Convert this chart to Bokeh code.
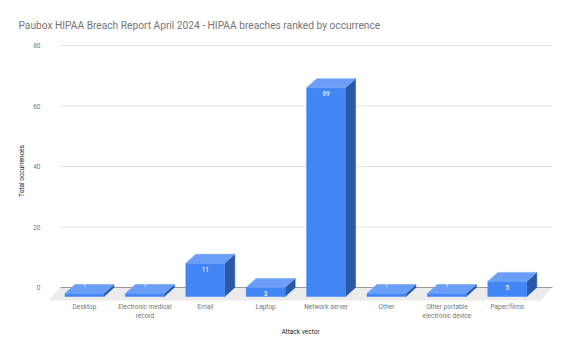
from bokeh.plotting import figure
from bokeh.models import FixedTicker, Range1d, Title
from bokeh.embed import file_html
from bokeh.resources import INLINE
from bokeh.core.properties import value

# ---- data ----
categories = ["Desktop", "Electronic medical\nrecord", "Email", "Laptop", "Network server",
              "Other", "Other portable\nelectronic device", "Paper/films"]
counts = [1, 1, 11, 3, 69, 1, 1, 5]
y_ticks = [0, 20, 40, 60, 80]

# ---- geometry (frame pixels) ----
W, H = 570, 352
F_LEFT, F_RIGHT, F_TOP, F_BOTTOM = 47, 553, 40, 301
PX0, PX1 = 63.8, 547.0      # x of category band start / end
GX0, GX1 = 60, 552          # x extent of gridlines / floor
PY0, PY80 = 287, 45         # y pixel of 0 and 80
n = len(categories)
sx = (PX1 - PX0) / n
sy = (PY0 - PY80) / 80.0
x_start = -(PX0 - F_LEFT) / sx
x_end = n + (F_RIGHT - PX1) / sx
y_start = -(F_BOTTOM - PY0) / sy
y_end = (PY0 - F_TOP) / sy
g0 = -(PX0 - GX0) / sx
g1 = n + (GX1 - PX1) / sx

DX = 10 / sx      # depth offset, x
DY = 9 / sy       # depth offset, y
FDX = 12 / sx     # floor depth
FDY = 13 / sy
BW = 39 / sx      # bar width

FRONT = "#4285f4"
TOP = "#6b9ff7"
SIDE = "#2b58a6"
FONT = "Roboto"
FS = "6.5px"

p = figure(width=W, height=H, output_backend="svg", toolbar_location=None,
           x_range=Range1d(x_start, x_end), y_range=Range1d(y_start, y_end),
           min_border_left=F_LEFT, min_border_right=W - F_RIGHT,
           min_border_top=F_TOP, min_border_bottom=H - F_BOTTOM)
p.outline_line_color = None
p.xgrid.visible = False
p.ygrid.visible = False
p.background_fill_color = "white"
p.border_fill_color = "white"

t = Title(text="Paubox HIPAA Breach Report April 2024 - HIPAA breaches ranked by occurrence",
          text_font=FONT, text_font_size="10.2px", text_font_style="normal",
          text_color="#757575", align="left", offset=-(F_LEFT - 18),
          standoff=19)
p.title = t

# gridlines
gy = [v for v in y_ticks if v != 0]
p.segment(x0=[g0] * len(gy), x1=[g1] * len(gy), y0=gy, y1=gy, line_color="#e3e3e3", line_width=1)

# floor
p.patch(x=[g0, g1, g1 - FDX, g0 - FDX], y=[0, 0, -FDY, -FDY], fill_color="#ebebeb", line_color=None)
# zero line
p.segment(x0=[g0], x1=[g1], y0=[0], y1=[0], line_color="#9a9a9a", line_width=1.2)

fx, fy, tx, ty, sxs, sys_ = [], [], [], [], [], []
for i, v in enumerate(counts):
    c = i + 0.5
    l, r = c - BW / 2, c + BW / 2
    fx.append([l - DX, r - DX, r - DX, l - DX]); fy.append([-DY, -DY, v - DY, v - DY])
    tx.append([l - DX, r - DX, r, l]); ty.append([v - DY, v - DY, v, v])
    sxs.append([r - DX, r, r, r - DX]); sys_.append([-DY, 0, v, v - DY])
p.patches(xs=sxs, ys=sys_, fill_color=SIDE, line_color=SIDE, line_width=0.5)
p.patches(xs=fx, ys=fy, fill_color=FRONT, line_color=FRONT, line_width=0.5)
p.patches(xs=tx, ys=ty, fill_color=TOP, line_color=TOP, line_width=0.5)

# data labels
lx, ly, lt = [], [], []
for i, v in enumerate(counts):
    lx.append(i + 0.5 - DX)
    if v * sy >= 8:
        ly.append(v - DY - 6 / sy)
    else:
        ly.append(v)
    lt.append(str(v))
p.text(x=lx, y=ly, text=lt, text_color="white", text_font=value(FONT),
       text_font_size=FS, text_align="center", text_baseline="middle")

# axes
p.yaxis.ticker = FixedTicker(ticks=y_ticks)
p.yaxis.axis_line_color = None
p.yaxis.major_tick_line_color = None
p.yaxis.minor_tick_line_color = None
p.yaxis.major_label_standoff = 1
p.yaxis.major_label_text_font = FONT
p.yaxis.major_label_text_font_size = FS
p.yaxis.major_label_text_color = "#757575"
p.yaxis.axis_label = "Total occurrences"
p.yaxis.axis_label_text_font = FONT
p.yaxis.axis_label_text_font_size = FS
p.yaxis.axis_label_text_font_style = "normal"
p.yaxis.axis_label_text_color = "#222222"
p.yaxis.axis_label_standoff = 4

xt = [i + 0.5 - DX for i in range(n)]
p.xaxis.ticker = FixedTicker(ticks=xt)
p.xaxis.major_label_overrides = {xt[i]: categories[i] for i in range(n)}
p.xaxis.axis_line_color = None
p.xaxis.major_tick_line_color = None
p.xaxis.minor_tick_line_color = None
p.xaxis.major_label_standoff = -5
p.xaxis.major_label_text_font = FONT
p.xaxis.major_label_text_font_size = FS
p.xaxis.major_label_text_color = "#757575"
p.xaxis.axis_label = "Attack vector"
p.xaxis.axis_label_text_font = FONT
p.xaxis.axis_label_text_font_size = FS
p.xaxis.axis_label_text_font_style = "normal"
p.xaxis.axis_label_text_color = "#222222"
p.xaxis.axis_label_standoff = 5

open("out.html", "w").write(file_html(p, INLINE))
